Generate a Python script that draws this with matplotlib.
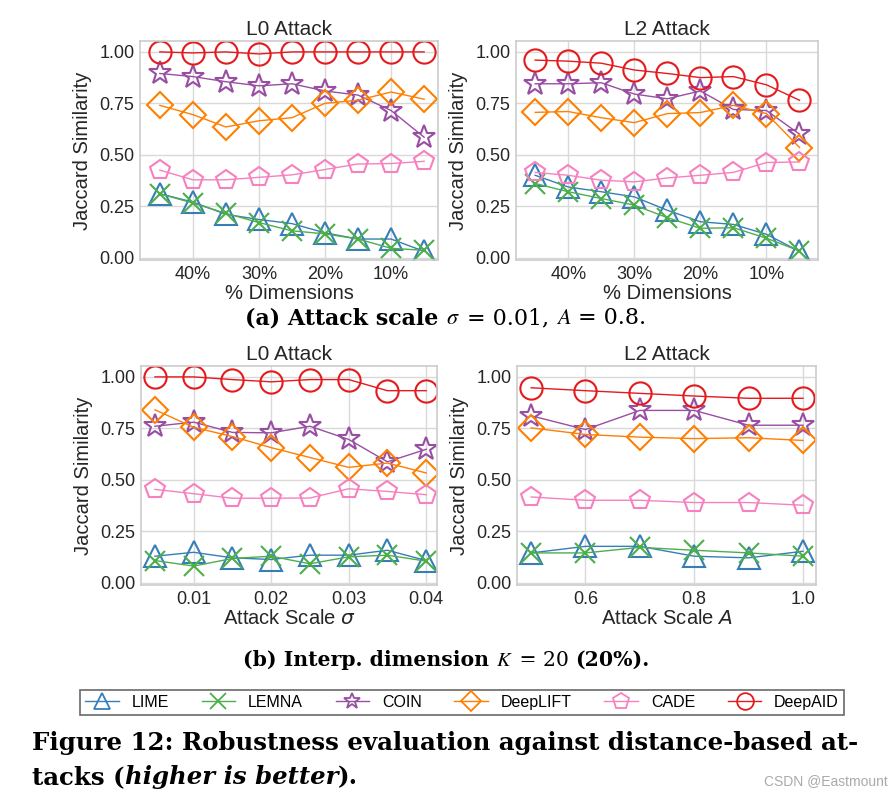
import matplotlib
matplotlib.use("Agg")
import matplotlib.pyplot as plt
from matplotlib.lines import Line2D

# ---------------- data ----------------
methods = ["LIME", "LEMNA", "COIN", "DeepLIFT", "CADE", "DeepAID"]
colors = ["#377eb8", "#4daf4a", "#984ea3", "#ff7f00", "#f781bf", "#e41a1c"]
markers = ["^", "x", "*", "D", "p", "o"]

# (a) % Dimensions
dims = [45, 40, 35, 30, 25, 20, 15, 10, 5]
dim_ticks = [40, 30, 20, 10]

a_l0 = {
    "LIME":     [0.31, 0.27, 0.21, 0.185, 0.165, 0.12, 0.09, 0.09, 0.03],
    "LEMNA":    [0.31, 0.265, 0.215, 0.17, 0.13, 0.115, 0.09, 0.045, 0.035],
    "COIN":     [0.895, 0.88, 0.855, 0.835, 0.845, 0.81, 0.79, 0.715, 0.585],
    "DeepLIFT": [0.74, 0.695, 0.635, 0.665, 0.68, 0.75, 0.765, 0.805, 0.77],
    "CADE":     [0.425, 0.378, 0.378, 0.39, 0.402, 0.428, 0.455, 0.457, 0.468],
    "DeepAID":  [1.0, 0.995, 1.0, 0.99, 1.0, 1.0, 1.0, 1.0, 1.0],
}
a_l2 = {
    "LIME":     [0.40, 0.343, 0.32, 0.295, 0.23, 0.174, 0.161, 0.113, 0.03],
    "LEMNA":    [0.36, 0.32, 0.287, 0.255, 0.194, 0.142, 0.145, 0.094, 0.032],
    "COIN":     [0.845, 0.845, 0.85, 0.795, 0.772, 0.81, 0.72, 0.715, 0.60],
    "DeepLIFT": [0.706, 0.71, 0.68, 0.656, 0.70, 0.705, 0.74, 0.70, 0.535],
    "CADE":     [0.414, 0.40, 0.376, 0.368, 0.387, 0.40, 0.414, 0.462, 0.465],
    "DeepAID":  [0.96, 0.955, 0.945, 0.912, 0.895, 0.875, 0.88, 0.84, 0.765],
}

# (b) attack scale
sigmas = [0.005, 0.01, 0.015, 0.02, 0.025, 0.03, 0.035, 0.04]
sigma_ticks = [0.01, 0.02, 0.03, 0.04]
b_l0 = {
    "LIME":     [0.128, 0.147, 0.12, 0.112, 0.133, 0.133, 0.157, 0.107],
    "LEMNA":    [0.107, 0.08, 0.117, 0.128, 0.091, 0.125, 0.133, 0.104],
    "COIN":     [0.76, 0.78, 0.73, 0.728, 0.76, 0.696, 0.587, 0.648],
    "DeepLIFT": [0.84, 0.755, 0.71, 0.656, 0.608, 0.56, 0.581, 0.533],
    "CADE":     [0.453, 0.432, 0.41, 0.41, 0.411, 0.456, 0.443, 0.427],
    "DeepAID":  [1.0, 1.0, 0.987, 0.976, 0.987, 0.987, 0.933, 0.933],
}
amps = [0.5, 0.6, 0.7, 0.8, 0.9, 1.0]
amp_ticks = [0.6, 0.8, 1.0]
b_l2 = {
    "LIME":     [0.144, 0.176, 0.176, 0.128, 0.12, 0.152],
    "LEMNA":    [0.144, 0.144, 0.171, 0.157, 0.144, 0.128],
    "COIN":     [0.811, 0.744, 0.837, 0.837, 0.765, 0.765],
    "DeepLIFT": [0.752, 0.72, 0.707, 0.70, 0.704, 0.691],
    "CADE":     [0.416, 0.40, 0.40, 0.389, 0.389, 0.376],
    "DeepAID":  [0.947, 0.933, 0.92, 0.907, 0.896, 0.896],
}
y_ticks = [0.0, 0.25, 0.5, 0.75, 1.0]

# ---------------- style ----------------
plt.rcParams["font.family"] = ["Liberation Sans", "DejaVu Sans"]
W, H = 893, 801
fig = plt.figure(figsize=(W / 100, H / 100), dpi=100)
TXT = "#262626"

def ax_rect(l, t, r, b):
    return [l / W, 1 - b / H, (r - l) / W, (b - t) / H]

def style(ax, title, xlabel):
    ax.set_facecolor("white")
    for s in ax.spines.values():
        s.set_color("#cccccc")
        s.set_linewidth(1.2)
    ax.grid(True, color="#d9d9d9", linewidth=1.0)
    ax.set_axisbelow(True)
    ax.tick_params(length=0, labelsize=13, colors=TXT, pad=4)
    ax.set_title(title, fontsize=15, color=TXT, pad=4)
    ax.set_xlabel(xlabel, fontsize=14.5, color=TXT, labelpad=1, math_fontfamily="dejavusans")
    ax.set_ylabel("Jaccard Similarity", fontsize=14.5, color=TXT, labelpad=5)
    ax.set_yticks(y_ticks)
    ax.set_yticklabels(["%.2f" % v for v in y_ticks])
    ax.set_ylim(-0.012, 1.053)

def plot_series(ax, x, data):
    for m, c, mk in zip(methods, colors, markers):
        ms = 16
        if mk == "D":
            ms = 13
        elif mk == "x":
            ms = 15
        elif mk == "*":
            ms = 17
        elif mk == "p":
            ms = 15
        ax.plot(x, data[m], color=c, lw=1.0, marker=mk, ms=ms, mfc="none",
                mec=c, mew=1.5)

# (a) L0
ax1 = fig.add_axes(ax_rect(140, 41, 438, 260))
plot_series(ax1, dims, a_l0)
style(ax1, "L0 Attack", "% Dimensions")
ax1.set_xlim(48, 2.9)
ax1.set_xticks(dim_ticks)
ax1.set_xticklabels(["%d%%" % d for d in dim_ticks])

# (a) L2
ax2 = fig.add_axes(ax_rect(516, 41, 818, 260))
plot_series(ax2, dims, a_l2)
style(ax2, "L2 Attack", "% Dimensions")
ax2.set_xlim(47.9, 2.2)
ax2.set_xticks(dim_ticks)
ax2.set_xticklabels(["%d%%" % d for d in dim_ticks])

# (b) L0
ax3 = fig.add_axes(ax_rect(141, 366, 437, 585))
plot_series(ax3, sigmas, b_l0)
style(ax3, "L0 Attack", r"Attack Scale $\sigma$")
ax3.set_xlim(0.0032, 0.0414)
ax3.set_xticks(sigma_ticks)
ax3.set_xticklabels(["%.2f" % v for v in sigma_ticks])

# (b) L2
ax4 = fig.add_axes(ax_rect(517, 366, 816, 585))
plot_series(ax4, amps, b_l2)
style(ax4, "L2 Attack", r"Attack Scale $A$")
ax4.set_xlim(0.474, 1.024)
ax4.set_xticks(amp_ticks)
ax4.set_xticklabels(["%.1f" % v for v in amp_ticks])

# ---------------- legend ----------------
handles = [Line2D([0], [0], color=c, lw=1.0, marker=mk, ms=12 if mk != "D" else 10,
                  mfc="none", mec=c, mew=1.3)
           for c, mk in zip(colors, markers)]
leg = fig.legend(handles, methods, loc="center", ncol=6,
                 bbox_to_anchor=(462 / W, 1 - 702.5 / H), fontsize=11.5,
                 frameon=True, fancybox=False, edgecolor="#444444",
                 handlelength=2.1, handletextpad=0.8, columnspacing=2.05,
                 borderpad=0.3, borderaxespad=0)
leg.get_frame().set_linewidth(1.2)
for t in leg.get_texts():
    t.set_color("black")

# ---------------- captions ----------------
SERIF = ["DejaVu Serif", "Liberation Serif"]
fig.canvas.draw()
renderer = fig.canvas.get_renderer()

def make_pieces(x0, ybase, pieces, fs):
    texts = []
    x = x0
    for s, style_, weight in pieces:
        t = fig.text(x / W, 1 - ybase / H, s, ha="left", va="baseline",
                     fontsize=fs, fontweight=weight, fontstyle=style_,
                     family=SERIF, color="black", math_fontfamily="stix")
        bb = t.get_window_extent(renderer)
        texts.append(t)
        x += bb.width
    return texts, x - x0

def fit_pieces(x_left, ybase, pieces, width, test_fs=15):
    texts, w = make_pieces(0, ybase, pieces, test_fs)
    for t in texts:
        t.remove()
    fs = test_fs * width / w
    make_pieces(x_left, ybase, pieces, fs)
    return fs

fit_pieces(245, 324, [("(a) Attack scale ", "normal", "bold"),
                      (r"$\sigma$", "normal", "normal"),
                      (" = 0.01, ", "normal", "normal"),
                      (r"$A$", "normal", "normal"),
                      (" = 0.8.", "normal", "normal")], 403)
fit_pieces(243, 666, [("(b) Interp. dimension ", "normal", "bold"),
                      (r"$K$", "normal", "normal"),
                      (" = 20 ", "normal", "normal"),
                      ("(20%).", "normal", "bold")], 407)

cap_fs = fit_pieces(32, 750, [("Figure 12: Robustness evaluation against distance-based at-",
                               "normal", "bold")], 830)
make_pieces(32, 784, [("tacks (", "normal", "bold"), ("higher is better", "italic", "bold"),
                      (").", "normal", "bold")], cap_fs)

fig.text(888 / W, 1 - 781 / H, "CSDN @Eastmount", ha="right", va="center",
         fontsize=10, color="#aaaaaa")

fig.savefig("out.png", dpi=100, facecolor="white")
